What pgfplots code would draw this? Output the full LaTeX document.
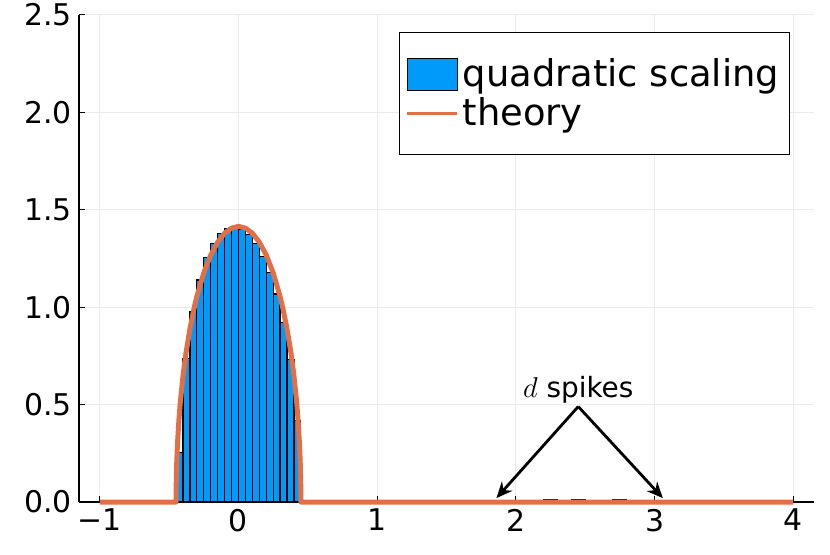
\documentclass[border=0pt]{standalone}
\usepackage{fontspec}
\setmainfont{DejaVu Sans}
\usepackage{pgfplots}
\pgfplotsset{compat=1.18}
\usetikzlibrary{arrows.meta}
\definecolor{juliablue}{RGB}{0,154,250}
\definecolor{juliaorange}{RGB}{226,111,70}
\pgfplotsset{
  barlegend/.style={legend image code/.code={\draw[##1] (0bp,-8bp) rectangle (25bp,8bp);}},
  linelegend/.style={legend image code/.code={\draw[##1, line width=1.5bp] (0bp,0bp) -- (25bp,0bp);}},
}
\begin{document}
\begin{tikzpicture}
\begin{axis}[
  scale only axis, width=367.5bp, height=243.5bp,
  xmin=-1.15, xmax=4.15, ymin=0, ymax=2.5,
  axis x line*=bottom, axis y line*=left,
  axis line style={black, line width=0.6bp, -},
  xtick={-1,0,1,2,3,4}, xticklabels={−1,0,1,2,3,4},
  ytick={0,0.5,1,1.5,2,2.5}, yticklabels={0.0,0.5,1.0,1.5,2.0,2.5},
  tick align=inside, major tick length=3bp,
  tick style={black, line width=0.5bp},
  grid=major, grid style={black!8, line width=0.5bp},
  ticklabel style={font=\fontsize{15}{18}\selectfont},
  clip=false,
  legend style={at={(0.967,0.965)}, anchor=north east, draw=black,
    line width=0.6bp, font=\fontsize{18.5}{21}\selectfont,
    inner xsep=3bp, inner ysep=11bp, row sep=0bp},
  legend cell align=left,
]
\coordinate (bl) at (rel axis cs:0,0);
\coordinate (tr) at (rel axis cs:1,1);

% histogram, bin starts (width 0.05)
\addplot[ybar interval, fill=juliablue, draw=black, line width=0.6bp, barlegend]
coordinates {
(-0.45,0.255) (-0.40,0.738) (-0.35,0.977) (-0.30,1.140) (-0.25,1.254)
(-0.20,1.328) (-0.15,1.379) (-0.10,1.405) (-0.05,1.408) (0.00,1.400)
(0.05,1.374) (0.10,1.328) (0.15,1.260) (0.20,1.180) (0.25,1.068)
(0.30,0.922) (0.35,0.732) (0.40,0.420) (0.45,0)
};
\addlegendentry{quadratic scaling}

% the d spikes, tiny bars between 2 and 3
\addplot[ybar interval, fill=juliablue, draw=black, line width=0.5bp, forget plot]
coordinates {
(2.00,0.010) (2.10,0.008) (2.20,0.012) (2.30,0.009) (2.40,0.013)
(2.50,0.010) (2.60,0.008) (2.70,0.011) (2.80,0.009) (2.90,0.010) (3.00,0)
};

% semicircle law
\addplot[juliaorange, line width=2.5bp, line join=round, linelegend]
coordinates {
(-1,0) (-0.45,0) (-0.449,0.094) (-0.445,0.210) (-0.44,0.297) (-0.43,0.417)
(-0.42,0.508) (-0.40,0.648) (-0.38,0.758) (-0.35,0.889) (-0.32,0.995)
(-0.30,1.055) (-0.25,1.177) (-0.20,1.268) (-0.15,1.334) (-0.10,1.380)
(-0.05,1.406) (0,1.415) (0.05,1.406) (0.10,1.380) (0.15,1.334)
(0.20,1.268) (0.25,1.177) (0.30,1.055) (0.32,0.995) (0.35,0.889)
(0.38,0.758) (0.40,0.648) (0.42,0.508) (0.43,0.417) (0.44,0.297)
(0.445,0.210) (0.449,0.094) (0.45,0) (4,0)
};
\addlegendentry{theory}

\node[font=\fontsize{14}{17}\selectfont] at (axis cs:2.45,0.575) {$d$ spikes};
\draw[-{Stealth[length=8bp,width=7bp]}, line width=1.4bp]
  (axis cs:2.45,0.49) -- (axis cs:1.86,0.02);
\draw[-{Stealth[length=8bp,width=7bp]}, line width=1.4bp]
  (axis cs:2.45,0.49) -- (axis cs:3.06,0.02);
\end{axis}
\pgfresetboundingbox
\path ([shift={(-39.5bp,-26bp)}]bl) rectangle ([shift={(8bp,7.5bp)}]tr);
\end{tikzpicture}
\end{document}
